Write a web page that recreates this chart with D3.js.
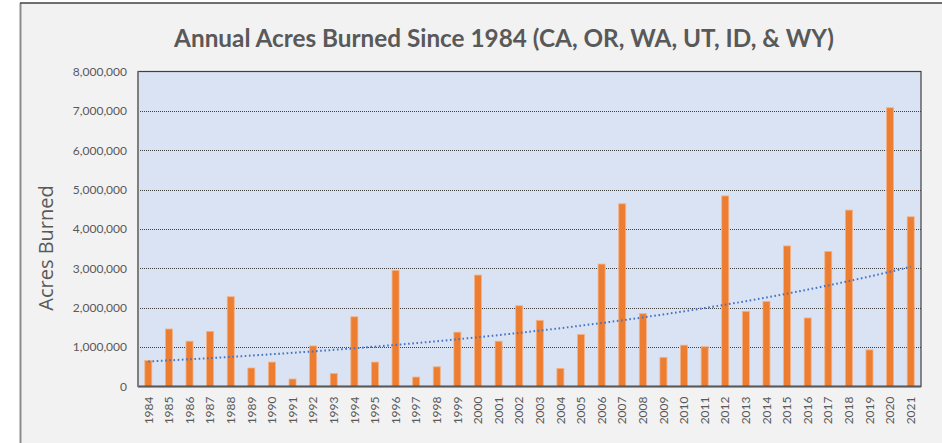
<!DOCTYPE html>
<html>
<head>
<meta charset="utf-8">
<script src="https://cdn.jsdelivr.net/npm/d3@7"></script>
<style>
html,body{margin:0;padding:0;background:#fff;}
svg{display:block;}
</style>
</head>
<body>
<svg id="chart" width="942" height="443"></svg>
<script>
const years = [1984,1985,1986,1987,1988,1989,1990,1991,1992,1993,1994,1995,1996,1997,1998,1999,2000,2001,2002,2003,2004,2005,2006,2007,2008,2009,2010,2011,2012,2013,2014,2015,2016,2017,2018,2019,2020,2021];
const acres = [660000,1460000,1150000,1400000,2280000,470000,620000,190000,1030000,330000,1770000,620000,2950000,240000,500000,1380000,2830000,1150000,2050000,1680000,460000,1320000,3110000,4640000,1850000,740000,1050000,1010000,4840000,1910000,2160000,3570000,1740000,3430000,4480000,930000,7080000,4310000];
const yTicks = [0,1000000,2000000,3000000,4000000,5000000,6000000,7000000,8000000];
const titleText = "Annual Acres Burned Since 1984 (CA, OR, WA, UT, ID, & WY)";
const yTitle = "Acres Burned";

const svg = d3.select("#chart");
const W = 942, H = 443;
const plot = {left:138, right:921, top:71.5, bottom:386.5};
const font = "Lato, 'Open Sans', sans-serif";
const font2 = "'Open Sans', Lato, sans-serif";

// outer chart area
svg.append("rect").attr("x",20).attr("y",3).attr("width",W-20).attr("height",H-3).attr("fill","#f2f2f2");
svg.append("line").attr("x1",20.5).attr("x2",20.5).attr("y1",3).attr("y2",H).attr("stroke","#8c8c8c").attr("stroke-width",2);
svg.append("line").attr("x1",20).attr("x2",W).attr("y1",3).attr("y2",3).attr("stroke","#404040").attr("stroke-width",1.5);

const x = d3.scaleBand().domain(years).range([plot.left, plot.right]).paddingInner(0.66).paddingOuter(0.33);
const y = d3.scaleLinear().domain([0,8000000]).range([plot.bottom, plot.top]);

// plot background
svg.append("rect").attr("x",plot.left).attr("y",plot.top).attr("width",plot.right-plot.left).attr("height",plot.bottom-plot.top).attr("fill","#dae3f3");

// gridlines
svg.append("g").selectAll("line").data(yTicks.filter(d=>d>0 && d<8000000)).join("line")
  .attr("x1",plot.left).attr("x2",plot.right)
  .attr("y1",d=>Math.round(y(d))+0.5).attr("y2",d=>Math.round(y(d))+0.5)
  .attr("stroke","#404040").attr("stroke-width",1).attr("stroke-dasharray","1,1");

// y axis labels
const yAxis = d3.axisLeft(y).tickValues(yTicks).tickFormat(d3.format(",")).tickSize(0).tickPadding(11);
const gy = svg.append("g").attr("transform",`translate(${plot.left},0)`).call(yAxis);
gy.select(".domain").remove();
gy.selectAll("text").attr("font-family",font).attr("font-size",12).attr("fill","#595959");

// bars
svg.append("g").selectAll("rect").data(years).join("rect")
  .attr("x",(d,i)=>x(d)).attr("width",x.bandwidth())
  .attr("y",(d,i)=>y(acres[i])).attr("height",(d,i)=>plot.bottom-y(acres[i]))
  .attr("fill","#ed7d31").attr("stroke","#f4b183").attr("stroke-width",0.8);

// exponential trendline (least squares on ln values, as spreadsheet trendline)
const idx = years.map((d,i)=>i+1);
const lny = acres.map(v=>Math.log(v));
const mx = d3.mean(idx), my = d3.mean(lny);
const b = d3.sum(idx.map((t,i)=>(t-mx)*(lny[i]-my))) / d3.sum(idx.map(t=>(t-mx)*(t-mx)));
const a = my - b*mx;
const trend = years.map((yr,i)=>({yr, v:Math.exp(a + b*(i+1))}));
const line = d3.line().x(d=>x(d.yr)+x.bandwidth()/2).y(d=>y(d.v));
svg.append("path").datum(trend).attr("d",line).attr("fill","none")
  .attr("stroke","#4472c4").attr("stroke-width",2).attr("stroke-dasharray","1.6,2.6").attr("stroke-linecap","butt");

// plot border
svg.append("rect").attr("x",plot.left).attr("y",plot.top).attr("width",plot.right-plot.left).attr("height",plot.bottom-plot.top)
  .attr("fill","none").attr("stroke","#404040").attr("stroke-width",1.2);
svg.append("line").attr("x1",plot.left).attr("x2",plot.right).attr("y1",plot.bottom).attr("y2",plot.bottom).attr("stroke","#595959").attr("stroke-width",2);
svg.append("line").attr("x1",plot.left).attr("x2",plot.left).attr("y1",plot.top).attr("y2",plot.bottom).attr("stroke","#7f7f7f").attr("stroke-width",2);

// x axis labels
const xAxis = d3.axisBottom(x).tickSize(0).tickPadding(0);
const gx = svg.append("g").attr("transform",`translate(0,${plot.bottom})`).call(xAxis);
gx.select(".domain").remove();
gx.selectAll("text").attr("font-family",font).attr("font-size",12).attr("fill","#595959")
  .attr("transform","rotate(-90)").attr("text-anchor","end").attr("dy","0.35em").attr("x",-10).attr("y",0);

// titles
svg.append("text").attr("x",504).attr("y",47).attr("text-anchor","middle")
  .attr("font-family",font).attr("font-weight","bold").attr("font-size",24.3).attr("fill","#595959").text(titleText);
svg.append("text").attr("transform","translate(53,248) rotate(-90)").attr("text-anchor","middle")
  .attr("font-family",font2).attr("font-size",20).attr("fill","#595959").text(yTitle);
</script>
</body>
</html>
